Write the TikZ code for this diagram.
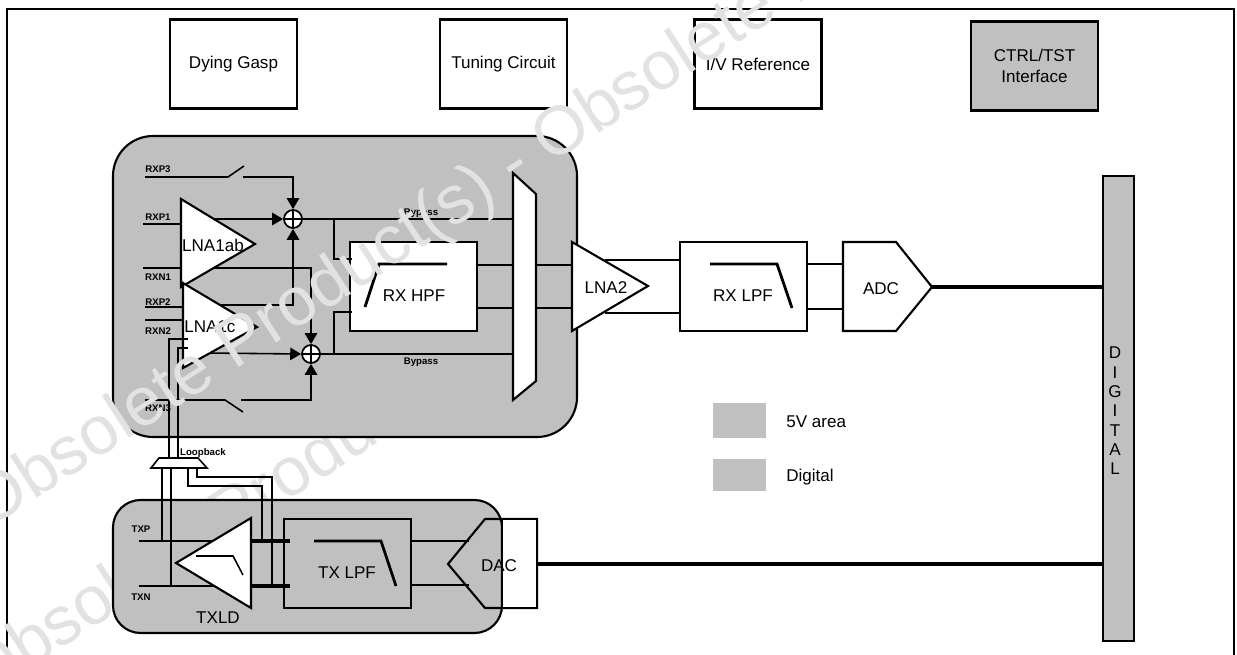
\documentclass[tikz,border=0pt]{standalone}
\usepackage{fontspec}
\setmainfont{Liberation Sans}
\usetikzlibrary{arrows.meta}

\definecolor{areagray}{HTML}{C0C0C0}
\definecolor{stampgray}{HTML}{E2E2E2}

\begin{document}
\begin{tikzpicture}[x=0.02cm, y=-0.02cm, >={Triangle[length=6.2pt, width=7pt]}]
    \tikzstyle{block} = [draw, line width=1.2pt, minimum width=2.54cm, minimum height=1.78cm,
	inner sep=0pt, align=center, font=\fontsize{9.7}{11.6}\selectfont]
    \tikzstyle{txt} = [inner sep=0pt, font=\fontsize{9.7}{11}\selectfont]
    \tikzstyle{pin} = [inner sep=0pt, font=\fontsize{5.5}{6}\selectfont\bfseries]
    \tikzstyle{stamp} = [inner sep=0pt, anchor=base west, rotate=33, text=stampgray,
	font=\fontsize{39}{40}\selectfont]
    \tikzstyle{panel} = [draw, line width=1.2pt, fill=areagray]
    \tikzstyle{part} = [draw, line width=1.2pt, fill=white, line join=miter]
    \tikzstyle{sum} = [draw, line width=1pt, circle, fill=white, minimum size=0.36cm, inner sep=0pt]
    \tikzstyle{wire} = [line width=0.9pt]
    \tikzstyle{fat} = [line width=1.6pt]
    \tikzstyle{hair} = [line width=0.6pt]

    \clip (0,0) rectangle (1237,655);
    \fill[white] (0,0) rectangle (1237,655);

    % outer frame, open at the bottom
    \path coordinate (fa) at (7,655) coordinate (fb) at (7,9)
	coordinate (fc) at (1234,9) coordinate (fd) at (1234,655);
    \draw[line width=1.2pt] (fa) -- (fb) -- (fc) -- (fd);

    \node[stamp] (stampb) at (-18,700) {Obsolete Product(s)};

    % analog areas
    \draw[panel, rounded corners=0.8cm] (113,136) rectangle (577,437);
    \draw[panel, rounded corners=0.55cm] (113,500) rectangle (502,633);

    % top row
    \node[block] (dying) at (233.5,64) {Dying Gasp};
    \node[block] (tuning) at (503.5,64) {Tuning Circuit};
    \node[block] (ivref) at (758,64) {I/V Reference};
    \node[block, fill=areagray] (ctrl) at (1034.5,66) {CTRL/TST\\Interface};

    % digital bar and legend
    \draw[panel] (1103,176) rectangle (1134,641);
    \node[txt, align=center] (digital) at (1115,411) {D\\I\\G\\I\\T\\A\\L};
    \fill[areagray] (713,403) rectangle (766,438);
    \fill[areagray] (713,459) rectangle (766,491);
    \node[txt, anchor=west] (leghv) at (786,422) {5V area};
    \node[txt, anchor=west] (legdig) at (786,477) {Digital};

    % filter blocks
    \node[block, fill=white] (hpf) at (413.5,286.5) {};
    \node[block, fill=white] (rxlpf) at (743.5,286.5) {};
    \node[block] (txlpf) at (347.5,563.5) {};
    \node[txt] (hpft) at (414,296) {RX HPF};
    \node[txt] (rxlpft) at (743,296) {RX LPF};
    \node[txt] (txlpft) at (347,573) {TX LPF};
    \draw[fat] (365,307) -- (379,264) -- (447,264);
    \draw[fat] (710,264) -- (777,264) -- (792,308);
    \draw[fat] (314,541) -- (381,541) -- (396,586);

    % summing points
    \node[sum] (suma) at (293,219) {};
    \node[sum] (sumb) at (311,354) {};
    \draw[hair] (suma.north) -- (suma.south) (suma.west) -- (suma.east);
    \draw[hair] (sumb.north) -- (sumb.south) (sumb.west) -- (sumb.east);

    % end points of the wires
    \path
	coordinate (rxp3) at (145,177) coordinate (swa) at (228,177) coordinate (swb) at (244,166)
	coordinate (swc) at (243,177) coordinate (swd) at (293,177)
	coordinate (rxp1) at (143,224) coordinate (rxp1i) at (190,224)
	coordinate (rxn1) at (143,268) coordinate (rxn1i) at (190,268)
	coordinate (rxp2) at (145,307) coordinate (rxp2i) at (190,307)
	coordinate (rxn2) at (145,320) coordinate (rxn2i) at (190,320)
	coordinate (rxn3) at (145,400) coordinate (swe) at (225,400) coordinate (swf) at (243,412)
	coordinate (swg) at (241,400) coordinate (swh) at (311,400)
	coordinate (outa) at (205,219) coordinate (outb) at (205,353)
	coordinate (bendc) at (311,268) coordinate (bendd) at (293,305)
	coordinate (crossc) at (205,268) coordinate (crossd) at (205,305)
	coordinate (bypa) at (513,219) coordinate (bypb) at (513,354)
	coordinate (tapa) at (334,219) coordinate (tapb) at (334,354)
	coordinate (tapc) at (334,259) coordinate (tapd) at (334,312)
	coordinate (hpfa) at (352,259) coordinate (hpfb) at (352,312)
	coordinate (hpfc) at (477,265) coordinate (hpfd) at (477,308)
	coordinate (muxa) at (513,265) coordinate (muxb) at (513,308)
	coordinate (muxc) at (536,265) coordinate (muxd) at (536,308)
	coordinate (lnaa) at (572,265) coordinate (lnab) at (572,308)
	coordinate (lnac) at (605,260) coordinate (lnad) at (605,313)
	coordinate (lpfa) at (680,260) coordinate (lpfb) at (680,313)
	coordinate (lpfc) at (807,264) coordinate (lpfd) at (807,309)
	coordinate (adca) at (843,264) coordinate (adcb) at (843,309)
	coordinate (adcc) at (932,287) coordinate (diga) at (1103,287)
	coordinate (dacc) at (537,564) coordinate (digb) at (1103,564)
	coordinate (txp) at (139,541) coordinate (txpi) at (215,541)
	coordinate (txn) at (139,586) coordinate (txni) at (215,586)
	coordinate (tlda) at (251,541) coordinate (tldb) at (251,586)
	coordinate (tlpa) at (290,541) coordinate (tlpb) at (290,586)
	coordinate (tlpc) at (411,541) coordinate (tlpd) at (411,585)
	coordinate (daca) at (469,541) coordinate (dacb) at (469,585);

    % receive side
    \draw[wire] (rxp3) -- (swa) -- (swb);
    \draw[wire, ->] (swc) -- (swd) -- (suma.north);
    \draw[fat] (rxp1) -- (rxp1i);
    \draw[fat] (rxp2) -- (rxp2i);
    \draw[wire] (rxn1) -- (rxn1i);
    \draw[wire] (rxn2) -- (rxn2i);
    \draw[wire, ->] (outa) -- (suma.west);
    \draw[wire, ->] (outb) -- (sumb.west);
    \draw[wire, ->] (crossc) -- (bendc) -- (sumb.north);
    \draw[wire, ->] (crossd) -- (bendd) -- (suma.south);
    \draw[wire] (rxn3) -- (swe) -- (swf);
    \draw[wire, ->] (swg) -- (swh) -- (sumb.south);
    \path[wire]
	(suma.east) edge (bypa)
	(sumb.east) edge (bypb);
    \draw[wire] (tapa) -- (tapc) -- (hpfa);
    \draw[wire] (tapb) -- (tapd) -- (hpfb);
    \path[fat]
	(hpfc) edge (muxa)
	(hpfd) edge (muxb)
	(muxc) edge (lnaa)
	(muxd) edge (lnab)
	(lpfc) edge (adca)
	(lpfd) edge (adcb);
    \path[wire]
	(lnac) edge (lpfa)
	(lnad) edge (lpfb);
    \draw[line width=2pt] (adcc) -- (diga);

    % transmit side
    \draw[wire] (txp) -- (txpi);
    \draw[fat] (txn) -- (txni);
    \path[line width=2.2pt]
	(tlda) edge (tlpa)
	(tldb) edge (tlpb);
    \draw[wire] (tlpc) -- (daca);
    \draw[fat] (tlpd) -- (dacb);
    \draw[line width=2pt] (dacc) -- (digb);

    % amplifiers, switch matrix, converters
    \draw[part] (181,199) -- (255,244) -- (181,287) -- cycle;
    \draw[part] (183,283) -- (257,327) -- (183,368) -- cycle;
    \draw[part] (572,242) -- (648,286) -- (572,331) -- cycle;
    \draw[part] (176,563) -- (251,518) -- (251,608) -- cycle;
    \draw[part] (513,173) -- (536,194) -- (536,381) -- (513,400) -- cycle;
    \draw[line width=1.2pt, fill=white] (843,242) -- (896,242) -- (932,287) -- (896,331) -- (843,331) -- cycle;
    \draw[line width=1.2pt] (448,564) -- (485,519) -- (537,519) -- (537,608) -- (485,608) -- cycle;
    \fill[white] (503,520) rectangle (536,607);
    \draw[line width=0.7pt] (502,519) -- (502,608);
    \draw[wire] (196,556) -- (233,556) -- (243,575);

    \node[txt] (lnaab) at (213,245) {LNA1ab};
    \node[txt, anchor=west] (lnacd) at (184,327) {LNA1c};
    \node[txt] (lnatwo) at (606,288) {LNA2};
    \node[txt] (adc) at (881,289) {ADC};
    \node[txt] (dac) at (499,566) {DAC};
    \node[txt] (txld) at (218,618) {TXLD};

    % loopback path
    \path coordinate (lba) at (188,339) coordinate (lbb) at (169,339) coordinate (lbc) at (169,458)
	coordinate (lbd) at (188,348) coordinate (lbe) at (178,348) coordinate (lbf) at (178,458)
	coordinate (lbg) at (162,468) coordinate (lbh) at (162,541)
	coordinate (lbi) at (171,468) coordinate (lbj) at (171,586)
	coordinate (lbk) at (188,468) coordinate (lbl) at (188,486) coordinate (lbm) at (262,486) coordinate (lbn) at (262,541)
	coordinate (lbo) at (197,468) coordinate (lbp) at (197,477) coordinate (lbq) at (272,477) coordinate (lbr) at (272,588);
    \draw[wire] (lba) -- (lbb) -- (lbc);
    \draw[wire] (lbd) -- (lbe) -- (lbf);
    \draw[wire] (lbg) -- (lbh);
    \draw[wire] (lbi) -- (lbj);
    \draw[wire] (lbk) -- (lbl) -- (lbm) -- (lbn);
    \draw[wire] (lbo) -- (lbp) -- (lbq) -- (lbr);
    \draw[line width=0.9pt, fill=white] (159,458) -- (198,458) -- (207,468) -- (151,468) -- cycle;

    % pin names
    \node[pin] (lrxpc) at (158,169) {RXP3};
    \node[pin] (lrxpa) at (158,217) {RXP1};
    \node[pin] (lrxna) at (158,277) {RXN1};
    \node[pin] (lrxpb) at (158,302) {RXP2};
    \node[pin] (lrxnb) at (158,331) {RXN2};
    \node[pin] (lrxnc) at (158,408) {RXN3};
    \node[pin] (lbypa) at (421,213) {Bypass};
    \node[pin] (lbypb) at (421,362) {Bypass};
    \node[pin] (lloop) at (203,453) {Loopback};
    \node[pin] (ltxp) at (141,529) {TXP};
    \node[pin] (ltxn) at (141,597) {TXN};

    \node[stamp] (stampa) at (-12,530) {Obsolete Product(s) - Obsolete Product(s)};
\end{tikzpicture}
\end{document}
